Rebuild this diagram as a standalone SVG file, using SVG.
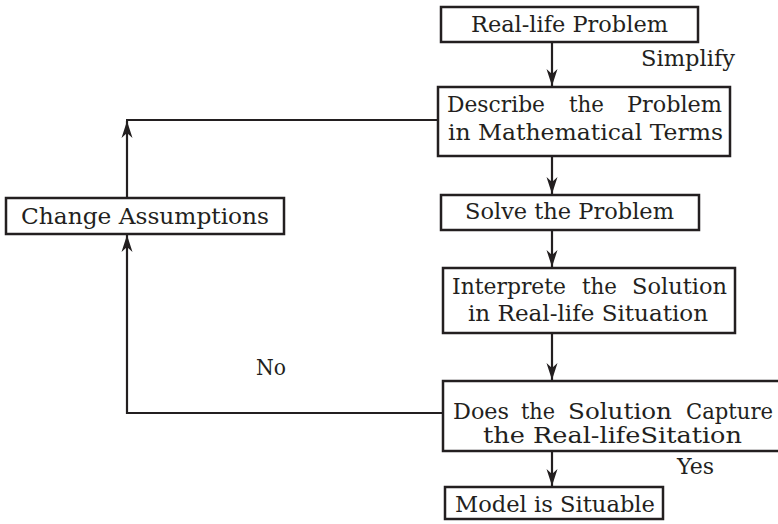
<svg xmlns="http://www.w3.org/2000/svg" width="778" height="524" viewBox="0 0 778 524">
<style>
  .box { fill: #ffffff; stroke: #231f20; stroke-width: 2.5; }
  .t { font-family: "DejaVu Serif", "Liberation Serif", serif; font-size: 22px; fill: #231f20; }
  .c { fill: none; stroke: #231f20; stroke-width: 2.2; }
</style>
<defs>
  <marker id="ah" viewBox="-18 -6 19 12" refX="0" refY="0" markerWidth="19" markerHeight="12" markerUnits="userSpaceOnUse" orient="auto">
    <path d="M0,0 L-17,-5.5 L-12,0 L-17,5.5 Z" fill="#231f20"/>
  </marker>
</defs>
<rect width="778" height="524" fill="#ffffff"/>
<g id="connectors">
  <path class="c" d="M552,42 V86" marker-end="url(#ah)"/>
  <path class="c" d="M552,156 V194" marker-end="url(#ah)"/>
  <path class="c" d="M552,230 V267" marker-end="url(#ah)"/>
  <path class="c" d="M552,333 V380" marker-end="url(#ah)"/>
  <path class="c" d="M552,451 V486" marker-end="url(#ah)"/>
  <path class="c" d="M127,198 V121" marker-end="url(#ah)"/>
  <path class="c" d="M126,120 H438"/>
  <path class="c" d="M443,413 H127 V235" marker-end="url(#ah)"/>
  <text class="t" x="641" y="66" textLength="94" lengthAdjust="spacingAndGlyphs">Simplify</text>
  <text class="t" x="256" y="375" textLength="30" lengthAdjust="spacingAndGlyphs">No</text>
  <text class="t" x="677" y="474" textLength="37" lengthAdjust="spacingAndGlyphs">Yes</text>
</g>
<g id="real-life-problem">
  <rect class="box" x="441" y="7" width="257" height="35"/>
  <text class="t" x="471" y="32" textLength="197" lengthAdjust="spacingAndGlyphs">Real-life Problem</text>
</g>
<g id="describe">
  <rect class="box" x="438" y="87" width="292" height="69"/>
  <text class="t" y="112"><tspan x="447" textLength="98" lengthAdjust="spacingAndGlyphs">Describe</tspan><tspan x="569" textLength="35" lengthAdjust="spacingAndGlyphs">the</tspan><tspan x="627" textLength="95" lengthAdjust="spacingAndGlyphs">Problem</tspan></text>
  <text class="t" x="448" y="140" textLength="275" lengthAdjust="spacingAndGlyphs">in Mathematical Terms</text>
</g>
<g id="change-assumptions">
  <rect class="box" x="6" y="198" width="278" height="36"/>
  <text class="t" x="21" y="224" textLength="248" lengthAdjust="spacingAndGlyphs">Change Assumptions</text>
</g>
<g id="solve">
  <rect class="box" x="441" y="195" width="258" height="35"/>
  <text class="t" x="465" y="219" textLength="209" lengthAdjust="spacingAndGlyphs">Solve the Problem</text>
</g>
<g id="interprete">
  <rect class="box" x="443" y="268" width="292" height="65"/>
  <text class="t" y="294"><tspan x="452" textLength="114" lengthAdjust="spacingAndGlyphs">Interprete</tspan><tspan x="582" textLength="35" lengthAdjust="spacingAndGlyphs">the</tspan><tspan x="632" textLength="95" lengthAdjust="spacingAndGlyphs">Solution</tspan></text>
  <text class="t" x="468" y="321" textLength="240" lengthAdjust="spacingAndGlyphs">in Real-life Situation</text>
</g>
<g id="capture">
  <rect class="box" x="443" y="381" width="345" height="70"/>
  <text class="t" y="419"><tspan x="453" textLength="56" lengthAdjust="spacingAndGlyphs">Does</tspan><tspan x="521" textLength="34" lengthAdjust="spacingAndGlyphs">the</tspan><tspan x="568" textLength="104" lengthAdjust="spacingAndGlyphs">Solution</tspan><tspan x="686" textLength="87" lengthAdjust="spacingAndGlyphs">Capture</tspan></text>
  <text class="t" x="483" y="443" textLength="259" lengthAdjust="spacingAndGlyphs">the Real-lifeSitation</text>
</g>
<g id="model">
  <rect class="box" x="445" y="487" width="218" height="32"/>
  <text class="t" x="455" y="512" textLength="200" lengthAdjust="spacingAndGlyphs">Model is Situable</text>
</g>
</svg>
